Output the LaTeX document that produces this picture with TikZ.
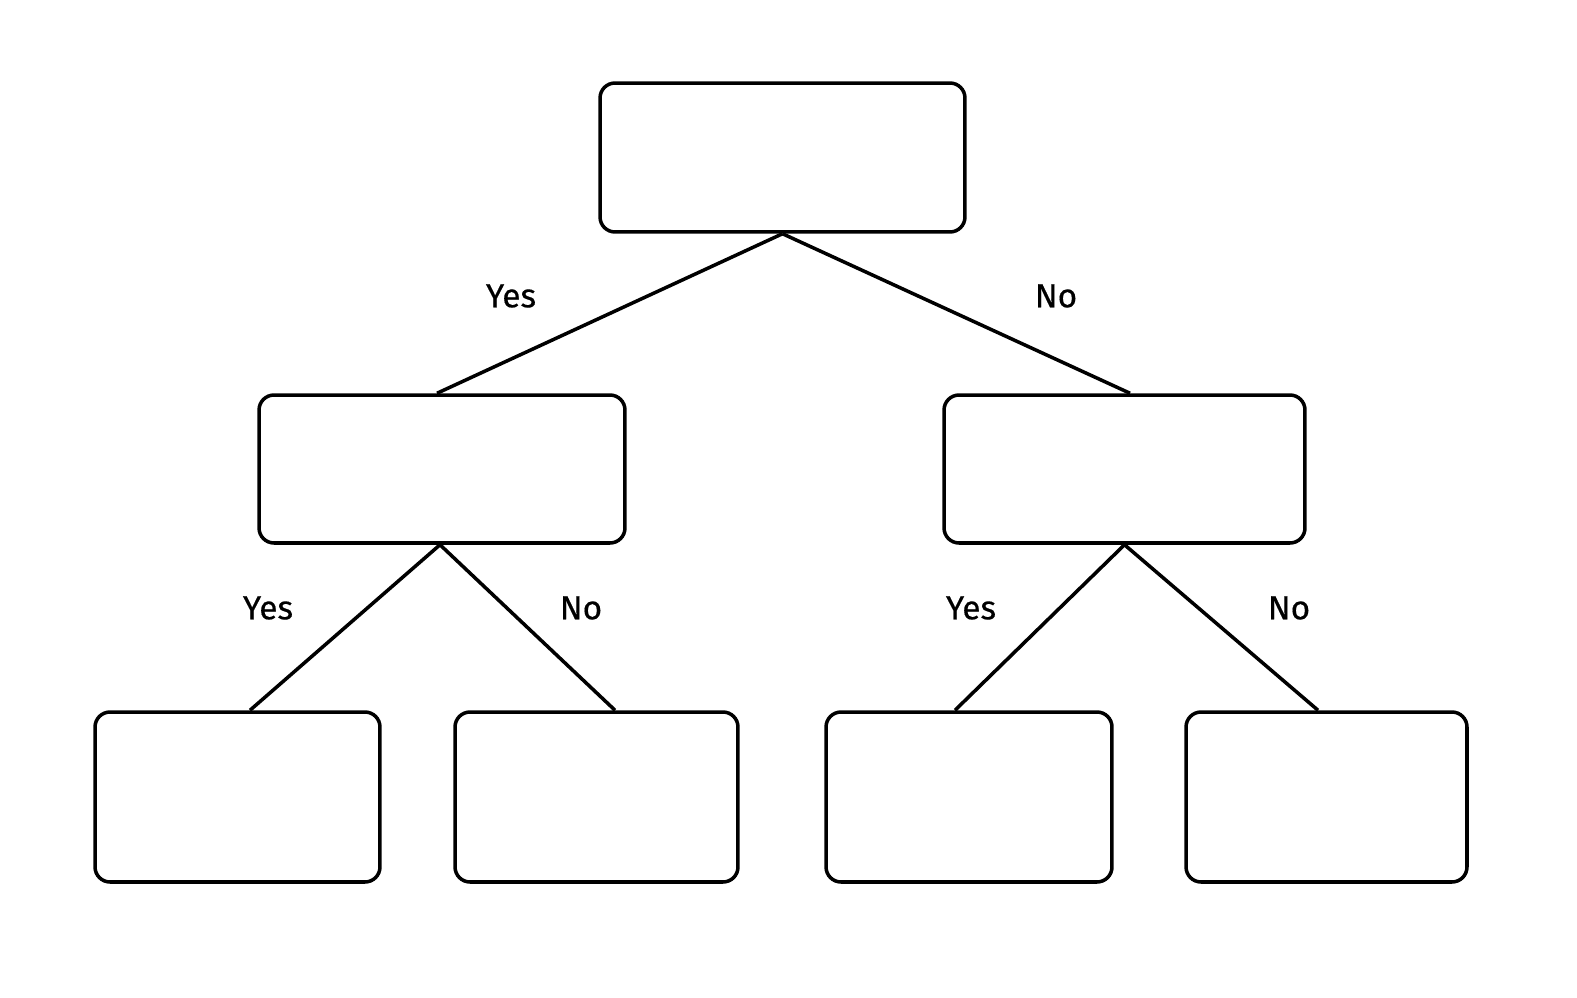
\documentclass[tikz,border=0pt]{standalone}
\usepackage{fontspec}
\setmainfont{Fira Sans}
\usetikzlibrary{positioning}
\begin{document}
\begin{tikzpicture}[x=0.02cm, y=-0.02cm, line width=2pt,
      every node/.append style={font=\fontsize{19}{22}\selectfont}]
    \tikzstyle{box} = [draw, rounded corners=0.3cm, inner sep=0pt]
    \tikzstyle{answer} = [font=\fontsize{19}{22}\selectfont\addfontfeatures{FakeBold=0.4}]
    \useasboundingbox (0,0) rectangle (1577,997);
    \node (root) [box, minimum width=7.3cm, minimum height=2.98cm] at (782.5,157.5) {};
    \node (left) [box, minimum width=7.32cm, minimum height=2.96cm] at (442,469) {};
    \node (right) [box, minimum width=7.22cm, minimum height=2.96cm] at (1124.5,469) {};
    \node (ll) [box, minimum width=5.7cm, minimum height=3.4cm] at (237.5,797) {};
    \node (lr) [box, minimum width=5.66cm, minimum height=3.4cm] at (596.5,797) {};
    \node (rl) [box, minimum width=5.72cm, minimum height=3.4cm] at (969,797) {};
    \node (rr) [box, minimum width=5.62cm, minimum height=3.4cm] at (1326.5,797) {};
    \draw (root.south) -- ([xshift=-0.1cm]left.north);
    \draw (root.south) -- ([xshift=0.11cm]right.north);
    \draw ([xshift=-0.04cm]left.south) -- ([xshift=0.25cm]ll.north);
    \draw ([xshift=-0.04cm]left.south) -- ([xshift=0.37cm]lr.north);
    \draw (right.south) -- ([xshift=-0.28cm]rl.north);
    \draw (right.south) -- ([xshift=-0.17cm]rr.north);
    \node (yes1) [answer] at (511,296) {Yes};
    \node (no1) [answer] at (1056,296) {No};
    \node (yes2) [answer] at (268,608) {Yes};
    \node (no2) [answer] at (581,608) {No};
    \node (yes3) [answer] at (971,608) {Yes};
    \node (no3) [answer] at (1289,608) {No};
\end{tikzpicture}
\end{document}
